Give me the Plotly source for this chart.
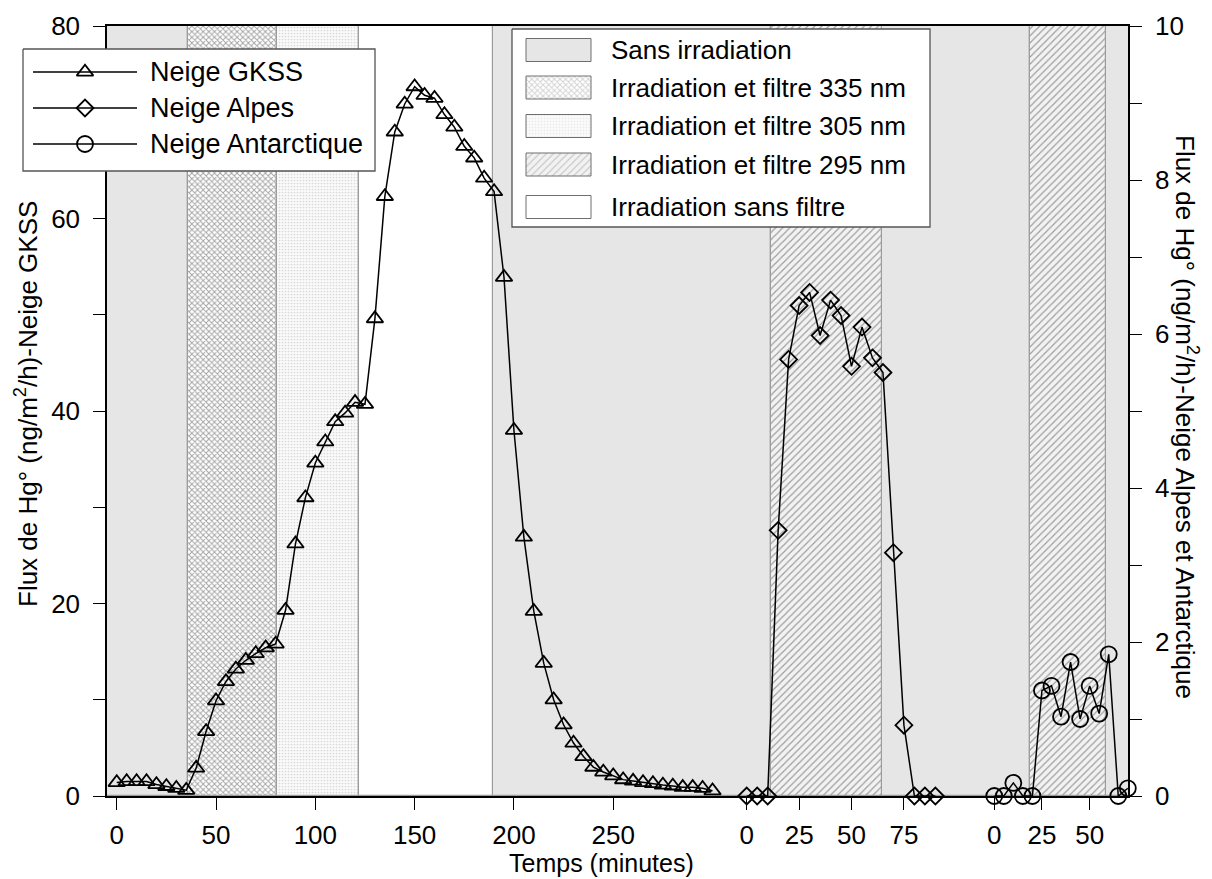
import plotly.graph_objects as go

# ---- data ----
# Neige GKSS: time (min) and Hg° flux (ng/m2/h), left axis
gkss_time = [0, 5, 10, 15, 20, 25, 30, 35, 40, 45, 50, 55, 60, 65, 70, 75,
             80, 85, 90, 95, 100, 105, 110, 115, 120, 125, 130, 135, 140,
             145, 150, 155, 160, 165, 170, 175, 180, 185, 190, 195, 200,
             205, 210, 215, 220, 225, 230, 235, 240, 245, 250, 255, 260,
             265, 270, 275, 280, 285, 290, 295, 300]
gkss_flux = [1.4, 1.5, 1.5, 1.5, 1.2, 1.0, 0.8, 0.6, 2.9, 6.7, 9.9, 11.9,
             13.2, 14.1, 14.8, 15.4, 15.8, 19.3, 26.2, 31.0, 34.6, 36.8,
             38.9, 39.8, 40.9, 40.7, 49.6, 62.3, 69.0, 71.9, 73.7, 72.8,
             72.5, 70.8, 69.5, 67.5, 66.3, 64.2, 62.8, 53.9, 38.0, 26.9,
             19.2, 13.8, 10.0, 7.4, 5.5, 4.1, 3.0, 2.5, 2.1, 1.7, 1.55, 1.4,
             1.3, 1.15, 1.05, 0.9, 0.9, 0.8, 0.55]

# Neige Alpes, right axis
alpes_time = [0, 5, 10, 15, 20, 25, 30, 35, 40, 45, 50, 55, 60, 65, 70, 75,
              80, 85, 90]
alpes_flux = [0, 0, 0, 3.45, 5.67, 6.37, 6.54, 5.98, 6.44, 6.24, 5.58, 6.09,
              5.69, 5.50, 3.16, 0.92, 0, 0, 0]

# Neige Antarctique, right axis
antarc_time = [0, 5, 10, 15, 20, 25, 30, 35, 40, 45, 50, 55, 60, 65, 70]
antarc_flux = [0, 0, 0.17, 0, 0, 1.37, 1.43, 1.03, 1.74, 1.00, 1.43, 1.07,
               1.84, 0, 0.1]

# irradiation periods (minutes) of each experiment
gkss_period = ["sans", "f335", "f305", "nofilter", "sans"]
gkss_start = [-8, 36, 80.5, 122, 189.5]
gkss_end = [36, 80.5, 122, 189.5, 315]
alpes_period = ["sans", "f295", "sans"]
alpes_start = [-10, 11.5, 64.5]
alpes_end = [11.5, 64.5, 105]
antarc_period = ["sans", "f295", "sans"]
antarc_start = [-20, 18.7, 58.5]
antarc_end = [18.7, 58.5, 75]

period_names = {
    "sans": "Sans irradiation",
    "f335": "Irradiation et filtre 335 nm",
    "f305": "Irradiation et filtre 305 nm",
    "f295": "Irradiation et filtre 295 nm",
    "nofilter": "Irradiation sans filtre",
}

gkss_ticks = [0, 50, 100, 150, 200, 250]
alpes_ticks = [0, 25, 50, 75]
antarc_ticks = [0, 25, 50]
left_ticks = [0, 20, 40, 60, 80]
left_minor = [10, 30, 50, 70]
right_ticks = [0, 2, 4, 6, 8, 10]
right_minor = [1, 3, 5, 7, 9]

# ---- styles ----
FONT = "Liberation Sans, Arial, sans-serif"
FS = 26
W, H = 1212, 879
L, R, T, B = 107, 1128, 26, 796      # plot box in pixels
S1, S2 = 730, 962                    # segment joints

STYLE = {
    "sans": dict(bg="#e6e6e6", pattern=None),
    "f335": dict(bg="#ffffff", pattern=dict(shape="x", size=4, solidity=0.42,
                                            fgcolor="#a4a4a4", bgcolor="#ffffff")),
    "f305": dict(bg="#ffffff", pattern=dict(shape=".", size=3, solidity=0.25,
                                            fgcolor="#d8d8d8", bgcolor="#fafafa")),
    "f295": dict(bg="#f2f2f2", pattern=dict(shape="/", size=5, solidity=0.22,
                                            fgcolor="#9a9a9a", bgcolor="#f2f2f2")),
    "nofilter": dict(bg="#ffffff", pattern=None),
}

fig = go.Figure()


def add_periods(period, start, end, xa, ya, top):
    for key, st in STYLE.items():
        idx = [i for i, p in enumerate(period) if p == key]
        if not idx:
            continue
        marker = dict(color=st["bg"], line=dict(color="#9c9c9c", width=1.2))
        if st["pattern"]:
            marker["pattern"] = dict(fillmode="replace", **st["pattern"])
        fig.add_trace(go.Bar(
            x=[(start[i] + end[i]) / 2 for i in idx],
            y=[top] * len(idx),
            width=[end[i] - start[i] for i in idx],
            base=0, marker=marker, xaxis=xa, yaxis=ya,
            name=period_names[key], showlegend=False, hoverinfo="skip"))


add_periods(gkss_period, gkss_start, gkss_end, "x", "y", 80)
add_periods(alpes_period, alpes_start, alpes_end, "x2", "y2", 10)
add_periods(antarc_period, antarc_start, antarc_end, "x3", "y2", 10)

line = dict(color="black", width=1.5)
fig.add_trace(go.Scatter(
    x=gkss_time, y=gkss_flux, mode="lines+markers", name="Neige GKSS",
    line=line, cliponaxis=False, xaxis="x", yaxis="y",
    marker=dict(symbol="triangle-up-open", size=14.5, color="black",
                line=dict(width=1.8, color="black"))))
fig.add_trace(go.Scatter(
    x=alpes_time, y=alpes_flux, mode="lines+markers", name="Neige Alpes",
    line=line, cliponaxis=False, xaxis="x2", yaxis="y2",
    marker=dict(symbol="diamond-open", size=13, color="black",
                line=dict(width=1.8, color="black"))))
fig.add_trace(go.Scatter(
    x=antarc_time, y=antarc_flux, mode="lines+markers", name="Neige Antarctique",
    line=line, cliponaxis=False, xaxis="x3", yaxis="y2",
    marker=dict(symbol="circle-open", size=16, color="black",
                line=dict(width=1.8, color="black"))))

# ---- hand-drawn legends on a pixel overlay axis (x4/y4) ----
def box(x0, x1, y0, y1):
    return [x0, x1, x1, x0, x0], [y0, y0, y1, y1, y0]


bx, by = box(23, 375, 49, 171)
fig.add_trace(go.Scatter(x=bx, y=by, fill="toself", fillcolor="white", mode="lines",
                         line=dict(color="#555555", width=1.3), xaxis="x4", yaxis="y4",
                         showlegend=False, hoverinfo="skip"))
bx, by = box(512, 930, 29, 227)
fig.add_trace(go.Scatter(x=bx, y=by, fill="toself", fillcolor="white", mode="lines",
                         line=dict(color="#555555", width=1.3), xaxis="x4", yaxis="y4",
                         showlegend=False, hoverinfo="skip"))

series_legend = [("Neige GKSS", "triangle-up-open", 14.5, 72),
                 ("Neige Alpes", "diamond-open", 13, 108),
                 ("Neige Antarctique", "circle-open", 16, 144)]
annotations = []
for name, sym, size, yrow in series_legend:
    fig.add_trace(go.Scatter(x=[33, 137], y=[yrow, yrow], mode="lines", line=line,
                             xaxis="x4", yaxis="y4", showlegend=False, hoverinfo="skip"))
    fig.add_trace(go.Scatter(x=[85], y=[yrow], mode="markers", xaxis="x4", yaxis="y4",
                             marker=dict(symbol=sym, size=size, color="black",
                                         line=dict(width=1.8, color="black")),
                             showlegend=False, hoverinfo="skip"))
    annotations.append(dict(x=148, y=yrow, xref="x4", yref="y4", text=name,
                            showarrow=False, xanchor="left", yanchor="middle",
                            font=dict(size=27)))

period_legend = [("sans", 50), ("f335", 87.5), ("f305", 126), ("f295", 164.5),
                 ("nofilter", 207)]
for key, yrow in period_legend:
    st = STYLE[key]
    sx, sy = box(526, 591, yrow - 11.5, yrow + 11.5)
    kw = dict(fillpattern=st["pattern"]) if st["pattern"] else {}
    fig.add_trace(go.Scatter(x=sx, y=sy, fill="toself", fillcolor=st["bg"], mode="lines",
                             line=dict(color="#6e6e6e", width=1), xaxis="x4", yaxis="y4",
                             showlegend=False, hoverinfo="skip", **kw))
    annotations.append(dict(x=609, y=yrow, xref="x4", yref="y4", text=period_names[key],
                            showarrow=False, xanchor="left", yanchor="middle",
                            font=dict(size=FS)))

# axis titles
annotations.append(dict(x=508, y=878, xref="x4", yref="y4", text="Temps (minutes)",
                        showarrow=False, xanchor="left", yanchor="bottom",
                        borderpad=0, font=dict(size=25)))
annotations.append(dict(x=26, y=404, xref="x4", yref="y4", textangle=-90,
                        text="Flux de Hg° (ng/m<sup>2</sup>/h)-Neige GKSS",
                        showarrow=False, xanchor="center", yanchor="middle",
                        font=dict(size=FS)))
annotations.append(dict(x=1187, y=417, xref="x4", yref="y4", textangle=90,
                        text="Flux de Hg° (ng/m<sup>2</sup>/h)-Neige Alpes et Antarctique",
                        showarrow=False, xanchor="center", yanchor="middle",
                        font=dict(size=FS)))

xstyle = dict(ticks="outside", ticklen=12, tickwidth=1.2, tickcolor="black",
              showline=True, linecolor="black", linewidth=1.5, mirror=True,
              showgrid=False, zeroline=False, tickfont=dict(size=FS),
              ticklabelstandoff=3, fixedrange=True, automargin=False)
ystyle = dict(ticks="outside", ticklen=12, tickwidth=1.2, tickcolor="black",
              showline=True, linecolor="black", linewidth=1.5,
              showgrid=False, zeroline=False, tickfont=dict(size=FS),
              ticklabelstandoff=8, fixedrange=True, automargin=False)

fig.update_layout(
    width=W, height=H,
    margin=dict(l=0, r=0, t=0, b=0, pad=0, autoexpand=False),
    paper_bgcolor="white", plot_bgcolor="rgba(0,0,0,0)",
    font=dict(family=FONT, size=FS, color="black"),
    barmode="overlay", bargap=0, showlegend=False,
    xaxis=dict(domain=[L / W, S1 / W], range=[-4.9, 308.8], anchor="y",
               tickvals=gkss_ticks, **xstyle),
    xaxis2=dict(domain=[S1 / W, S2 / W], range=[-7.97, 102.7], anchor="y2",
                tickvals=alpes_ticks, **xstyle),
    xaxis3=dict(domain=[S2 / W, R / W], range=[-16.9, 70.1], anchor="y2",
                tickvals=antarc_ticks, **xstyle),
    yaxis=dict(domain=[1 - B / H, 1 - T / H], range=[0, 80], anchor="x", side="left",
               tickvals=left_ticks,
               minor=dict(tickvals=left_minor, ticks="outside", ticklen=12,
                          tickwidth=1.2, tickcolor="black"),
               **ystyle),
    yaxis2=dict(domain=[1 - B / H, 1 - T / H], range=[0, 10], anchor="x3", side="right",
                tickvals=right_ticks,
                minor=dict(tickvals=right_minor, ticks="outside", ticklen=12,
                           tickwidth=1.2, tickcolor="black"),
                **ystyle),
    xaxis4=dict(domain=[0, 1], range=[0, W], anchor="y4", visible=False,
                fixedrange=True, automargin=False),
    yaxis4=dict(domain=[0, 1], range=[H, 0], anchor="x4", visible=False,
                fixedrange=True, automargin=False),
    annotations=annotations,
)

fig.write_html("out.html", config={"displayModeBar": False},
               post_script="document.body.style.margin='0';")
